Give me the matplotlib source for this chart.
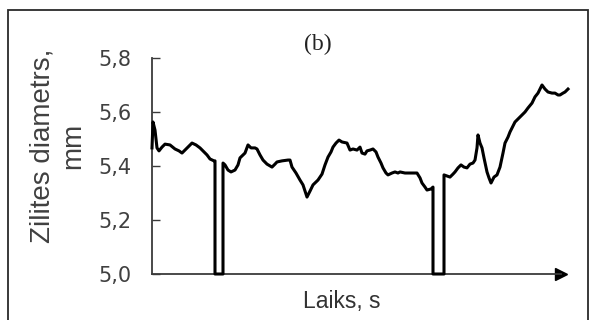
import numpy as np
import matplotlib
matplotlib.use("Agg")
import matplotlib.pyplot as plt
from matplotlib.patches import Rectangle
from matplotlib.ticker import FuncFormatter

# time (s) and droplet diameter (mm); the two drops to 5,0 are droplet detachments
time_s = [0, 1, 3, 5, 7, 10, 13, 18, 23, 27, 30, 34, 40, 44, 48, 52, 55, 58, 62, 63,
          63, 71, 71, 73, 76, 79, 83, 86, 88, 91, 93, 96, 99, 103, 105, 108, 111, 115,
          120, 123, 125, 130, 136, 138, 140, 144, 148, 151, 155, 158, 161, 166, 170,
          173, 176, 179, 181, 184, 187, 190, 195, 198, 201, 205, 208, 210, 213, 215,
          218, 221, 224, 226, 229, 231, 234, 236, 240, 243, 246, 248, 253, 258, 265,
          268, 270, 273, 275, 279, 281, 281, 292, 292, 295, 298, 301, 303, 306, 309,
          312, 315, 318, 321, 323, 325, 326, 328, 330, 332, 335, 337, 339, 342, 345,
          348, 351, 353, 356, 358, 361, 363, 366, 370, 373, 376, 380, 383, 386, 390,
          393, 396, 400, 403, 406, 408, 411, 413, 416]
diameter_mm = [5.467, 5.563, 5.533, 5.467, 5.456, 5.470, 5.481, 5.478, 5.463, 5.456,
               5.448, 5.463, 5.485, 5.478, 5.467, 5.452, 5.441, 5.426, 5.419, 5.419,
               5.0, 5.0, 5.411, 5.404, 5.385, 5.378, 5.385, 5.404, 5.430, 5.441,
               5.448, 5.478, 5.467, 5.467, 5.463, 5.441, 5.422, 5.407, 5.396, 5.407,
               5.415, 5.419, 5.422, 5.422, 5.396, 5.374, 5.348, 5.330, 5.285, 5.307,
               5.330, 5.348, 5.370, 5.404, 5.433, 5.452, 5.470, 5.485, 5.496, 5.489,
               5.485, 5.459, 5.463, 5.459, 5.470, 5.448, 5.444, 5.456, 5.459, 5.463,
               5.452, 5.433, 5.411, 5.393, 5.374, 5.367, 5.374, 5.378, 5.374, 5.378,
               5.374, 5.374, 5.374, 5.356, 5.337, 5.322, 5.311, 5.315, 5.322, 5.0,
               5.0, 5.367, 5.363, 5.359, 5.370, 5.378, 5.393, 5.404, 5.396, 5.393,
               5.407, 5.411, 5.422, 5.467, 5.515, 5.485, 5.467, 5.430, 5.378, 5.356,
               5.337, 5.359, 5.367, 5.396, 5.448, 5.485, 5.507, 5.526, 5.548, 5.563,
               5.574, 5.589, 5.600, 5.615, 5.633, 5.656, 5.670, 5.700, 5.685, 5.674,
               5.670, 5.670, 5.663, 5.663, 5.670, 5.674, 5.685]
y_ticks = [5.0, 5.2, 5.4, 5.6, 5.8]

plt.rcParams['font.family'] = ['Liberation Sans', 'DejaVu Sans']

fig = plt.figure(figsize=(5.9, 3.2), dpi=100)
W, H = 590, 320
ax = fig.add_axes([152 / W, 1 - 274 / H, (561 - 152) / W, (274 - 58) / H])

ax.plot(time_s, diameter_mm, color='black', lw=2.2, clip_on=False,
        solid_joinstyle='round', zorder=3)

ax.set_xlim(0, 409)
ax.set_ylim(5.0, 5.8)
ax.set_yticks(y_ticks)
ax.yaxis.set_major_formatter(FuncFormatter(lambda v, p: f"{v:.1f}".replace('.', ',')))
ax.set_xticks([])

for s in ['top', 'right']:
    ax.spines[s].set_visible(False)
for s in ['left', 'bottom']:
    ax.spines[s].set_color('#3a3a3a')
    ax.spines[s].set_linewidth(1.3)

ax.tick_params(axis='y', direction='in', length=6, width=1, color='#3a3a3a',
               labelsize=15, labelcolor='#404040', pad=15)
for lab in ax.get_yticklabels():
    lab.set_family('DejaVu Sans')

# arrow head on the time axis
ax.plot(1, 0, '>', color='black', markersize=9, transform=ax.transAxes, clip_on=False)

fig.text(58 / W, 1 - 146 / H, 'Zilites diametrs,\nmm', rotation=90, fontsize=20,
         color='#404040', ha='center', va='center', multialignment='center',
         linespacing=1.2)
fig.text(342 / W, 1 - 308 / H, 'Laiks, s', fontsize=16.5, color='#333333',
         ha='center', va='baseline')
fig.text(318 / W, 1 - 44 / H, '(b)', family='Liberation Serif', fontsize=17,
         ha='center', va='center', color='#222222')

# frame around the panel
fig.patches.append(Rectangle((8 / W, -0.05), 580 / W, 1.05 - 10 / H,
                             transform=fig.transFigure, fill=False,
                             edgecolor='#2a2a2a', lw=1.3))

fig.savefig('out.png', dpi=100)
